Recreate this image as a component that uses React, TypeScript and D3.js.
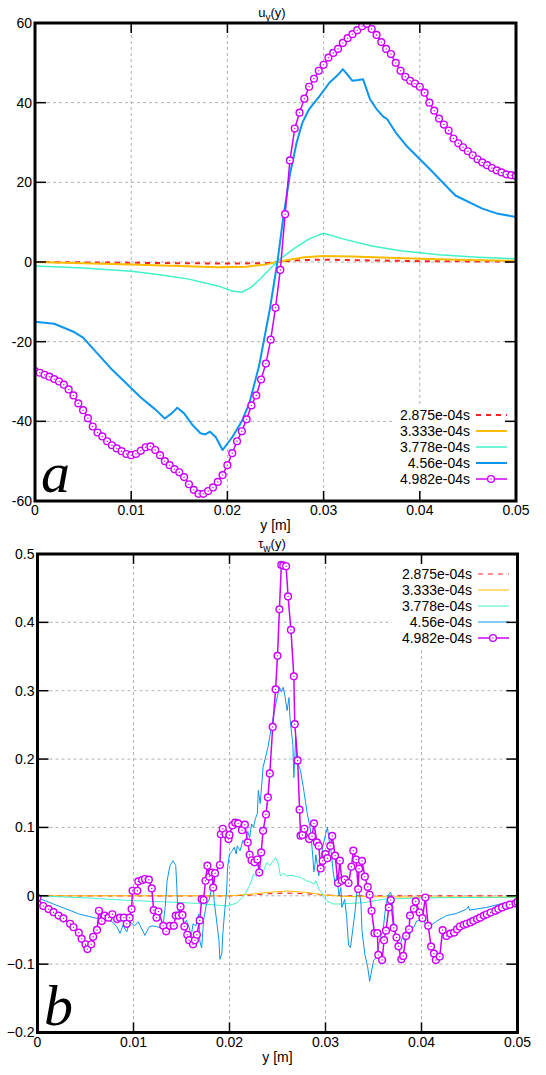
import { useEffect, useRef } from 'react';
import * as d3 from 'd3';

const W = 546;
const H = 1075;

const xTicks = [0, 0.01, 0.02, 0.03, 0.04, 0.05];
const uTicks = [-60, -40, -20, 0, 20, 40, 60];
const tauTicks = [-0.2, -0.1, 0, 0.1, 0.2, 0.3, 0.4, 0.5];
const legendLabels = ['2.875e-04s', '3.333e-04s', '3.778e-04s', '4.56e-04s', '4.982e-04s'];
const colors = ['#ff2020', '#ffbb00', '#40f2c8', '#0a96ee', '#cc00ff'];

// u_y(y): [y, u]
const uRed = [[0, 0], [0.01, -0.2], [0.02, -0.4], [0.024, -0.3], [0.026, 0.2], [0.028, 0.5], [0.03, 0.6], [0.035, 0.4], [0.04, 0.2], [0.05, 0.1]];
const uOrange = [[0, 0], [0.005, -0.3], [0.01, -0.6], [0.015, -1.0], [0.019, -1.3], [0.022, -1.2], [0.024, -0.6], [0.026, 0.4], [0.028, 1.2], [0.03, 1.5], [0.033, 1.4], [0.036, 1.1], [0.04, 0.8], [0.045, 0.5], [0.05, 0.3]];
const uCyan = [[0, -1], [0.005, -1.5], [0.01, -2.3], [0.013, -3.2], [0.016, -4.3], [0.019, -6], [0.0205, -7.3], [0.0215, -7.6], [0.0225, -6.3], [0.0235, -4], [0.0245, -1.5], [0.0255, 0.8], [0.027, 3.5], [0.0285, 5.8], [0.03, 7.2], [0.032, 5.8], [0.035, 4], [0.038, 2.8], [0.042, 1.8], [0.046, 1.2], [0.05, 0.8]];
const uBlue = [[0, -15], [0.002, -15.5], [0.004, -17.5], [0.005, -19], [0.0065, -23], [0.008, -27], [0.0095, -30.5], [0.011, -34], [0.0125, -37], [0.0135, -39.3], [0.0142, -38], [0.0148, -36.6], [0.0155, -38], [0.0164, -41], [0.0172, -43], [0.0177, -43.3], [0.0182, -42.6], [0.0188, -44], [0.0195, -47.2], [0.0205, -44], [0.0215, -40], [0.0223, -35.3], [0.0233, -26], [0.0244, -12], [0.0252, 0], [0.0258, 11], [0.0265, 22], [0.0272, 30], [0.0278, 35], [0.0285, 38.4], [0.0296, 41.7], [0.0306, 45], [0.0315, 47], [0.032, 48.4], [0.0325, 47], [0.033, 45.5], [0.0336, 45.7], [0.0341, 45.9], [0.0348, 41], [0.0355, 38.4], [0.0362, 36.5], [0.0366, 35.9], [0.0375, 32.5], [0.0386, 29.2], [0.041, 23.4], [0.0437, 16.7], [0.0465, 13.4], [0.048, 12.2], [0.05, 11.3]];
const uMagenta = [
  [0, -27.4], [0.0005, -27.8], [0.001, -28.3], [0.0015, -28.8], [0.002, -29.4], [0.0025, -30.0], [0.003, -30.8], [0.0035, -32.0], [0.004, -33.5], [0.0045, -35.5],
  [0.005, -37.2], [0.0055, -39.2], [0.006, -41.3], [0.0065, -42.8], [0.007, -43.8], [0.0075, -45.0], [0.008, -46.0], [0.0085, -46.8], [0.009, -47.5], [0.0095, -48.2],
  [0.01, -48.5], [0.0105, -48.2], [0.011, -47.4], [0.0115, -46.5], [0.012, -46.3], [0.0125, -47.2], [0.013, -48.5], [0.0135, -50.0], [0.014, -51.0], [0.0145, -52.0],
  [0.015, -52.8], [0.0155, -54.0], [0.016, -55.8], [0.0165, -57.2], [0.017, -58.2], [0.0175, -58.2], [0.018, -57.5], [0.0185, -56.6], [0.019, -55.2], [0.0195, -53.5],
  [0.02, -51.0], [0.0205, -48.0], [0.021, -45.0], [0.0215, -42.5], [0.022, -39.5], [0.0225, -36.0], [0.023, -33.5], [0.0235, -29.5], [0.024, -25.5], [0.0245, -19.5],
  [0.025, -11.5], [0.0255, -2.0], [0.026, 12.0], [0.0265, 25.5], [0.027, 33.5], [0.0275, 37.5], [0.028, 41.0], [0.0285, 44.0], [0.029, 46.0], [0.0295, 48.0],
  [0.03, 49.5], [0.0305, 51.3], [0.031, 52.5], [0.0315, 53.5], [0.032, 55.0], [0.0325, 56.2], [0.033, 57.2], [0.0335, 58.2], [0.034, 59.2], [0.0345, 59.8],
  [0.035, 58.5], [0.0355, 57.0], [0.036, 55.2], [0.0365, 53.5], [0.037, 52.2], [0.0375, 50.0], [0.038, 48.0], [0.0385, 46.5], [0.039, 45.5], [0.0395, 44.8],
  [0.04, 44.0], [0.0405, 42.5], [0.041, 40.0], [0.0415, 38.0], [0.042, 36.0], [0.0425, 34.5], [0.043, 33.0], [0.0435, 31.0], [0.044, 29.8], [0.0445, 28.8],
  [0.045, 27.8], [0.0455, 26.8], [0.046, 25.8], [0.0465, 25.0], [0.047, 24.3], [0.0475, 23.6], [0.048, 23.0], [0.0485, 22.5], [0.049, 22.0], [0.0495, 21.8], [0.05, 21.6],
];

// tau_w(y): [y, tau]
const tRed = [[0, 0], [0.02, 0], [0.022, 0.001], [0.024, 0.003], [0.026, 0.004], [0.028, 0.003], [0.03, 0.001], [0.032, 0], [0.05, 0]];
const tOrange = [[0, 0], [0.01, 0], [0.02, 0], [0.022, 0.002], [0.024, 0.005], [0.026, 0.007], [0.028, 0.005], [0.03, 0.001], [0.032, -0.001], [0.04, -0.002], [0.05, -0.002]];
const tCyan = [[0, 0], [0.005, -0.003], [0.0097, -0.007], [0.0135, -0.009], [0.0166, -0.011], [0.0197, -0.015], [0.0207, -0.011], [0.0215, 0], [0.022, 0.012], [0.0223, 0.022], [0.0225, 0.032], [0.0228, 0.028], [0.0232, 0.037], [0.0235, 0.035], [0.0239, 0.049], [0.0242, 0.044], [0.0245, 0.05], [0.0248, 0.056], [0.0251, 0.046], [0.0253, 0.029], [0.0256, 0.033], [0.026, 0.029], [0.0265, 0.03], [0.027, 0.028], [0.0274, 0.027], [0.028, 0.022], [0.0285, 0.02], [0.0288, 0.017], [0.029, 0.022], [0.0293, 0.01], [0.0296, 0.005], [0.0298, -0.002], [0.0301, -0.007], [0.0308, -0.012], [0.0315, -0.012], [0.034, -0.01], [0.036, -0.005], [0.04, -0.003], [0.05, -0.002]];
const tBlue = [
  [0, -0.003], [0.0044, -0.027], [0.0062, -0.033], [0.0072, -0.035], [0.0078, -0.038], [0.0083, -0.046], [0.0086, -0.055], [0.0089, -0.043], [0.0093, -0.053], [0.0096, -0.038],
  [0.0099, -0.041], [0.0101, -0.044], [0.0105, -0.038], [0.0108, -0.047], [0.0112, -0.058], [0.0116, -0.046], [0.0119, -0.044], [0.0124, -0.045], [0.0128, -0.047], [0.0131, -0.041],
  [0.0133, -0.017], [0.0135, 0.022], [0.0138, 0.044], [0.0141, 0.0513], [0.0144, 0.044], [0.0145, 0.017], [0.0146, -0.017], [0.0148, -0.034], [0.015, -0.027], [0.0153, -0.041],
  [0.0155, -0.036], [0.0158, -0.046], [0.016, -0.06], [0.0162, -0.041], [0.0165, -0.044], [0.0168, -0.027], [0.0169, -0.066], [0.0171, -0.076], [0.0173, -0.036], [0.0176, -0.012],
  [0.0179, -0.005], [0.0183, 0.022], [0.0184, -0.008], [0.0187, -0.0415], [0.0189, -0.065], [0.019, -0.093], [0.0192, -0.085], [0.0193, -0.057], [0.0195, -0.022], [0.0197, 0.007],
  [0.0198, 0.0415], [0.02, 0.061], [0.0203, 0.066], [0.0205, 0.071], [0.0207, 0.061], [0.0208, 0.073], [0.0211, 0.066], [0.0214, 0.081], [0.0216, 0.076], [0.0219, 0.094],
  [0.0221, 0.085], [0.0223, 0.105], [0.0225, 0.1], [0.0227, 0.113], [0.0229, 0.12], [0.023, 0.154], [0.0232, 0.135], [0.0235, 0.188], [0.024, 0.217], [0.0245, 0.257],
  [0.0249, 0.286], [0.0252, 0.305], [0.0254, 0.298], [0.0256, 0.305], [0.0258, 0.29], [0.026, 0.271], [0.0262, 0.29], [0.0263, 0.26], [0.0266, 0.221], [0.0267, 0.173],
  [0.0269, 0.231], [0.027, 0.2], [0.0274, 0.183], [0.0277, 0.158], [0.0281, 0.12], [0.0284, 0.1], [0.0286, 0.07], [0.0288, 0.035], [0.0289, 0.046], [0.029, 0.06],
  [0.0293, 0.029], [0.0295, 0.05], [0.0297, 0.07], [0.03, 0.09], [0.0302, 0.1], [0.0304, 0.08], [0.0306, 0.063], [0.0308, 0.035], [0.031, 0.017], [0.0312, 0.03],
  [0.0314, 0], [0.0316, 0.012], [0.0317, -0.017], [0.032, -0.005], [0.0322, -0.03], [0.0324, -0.072], [0.0326, -0.076], [0.0329, -0.043], [0.0331, -0.02], [0.0333, 0.012],
  [0.0335, 0.008], [0.0337, -0.012], [0.0338, -0.051], [0.0341, -0.086], [0.0344, -0.105], [0.0346, -0.125], [0.0348, -0.11], [0.035, -0.095], [0.0353, -0.09], [0.0357, -0.061],
  [0.036, -0.05], [0.0363, -0.012], [0.0366, 0.0025], [0.0368, 0.005], [0.037, -0.012], [0.0371, -0.037], [0.0374, -0.061], [0.0377, -0.076], [0.038, -0.061], [0.0383, -0.066],
  [0.0387, -0.061], [0.039, -0.046], [0.0392, -0.046], [0.0395, -0.037], [0.0399, -0.035], [0.0402, -0.037], [0.0406, -0.044], [0.041, -0.043], [0.0416, -0.037], [0.0426, -0.029],
  [0.0436, -0.026], [0.0447, -0.0195], [0.0449, -0.015], [0.045, -0.021], [0.0468, -0.017], [0.0482, -0.012], [0.05, -0.006],
];
const tMagenta = [
  [0, -0.003], [0.0006, -0.015], [0.00115, -0.0195], [0.00167, -0.024], [0.0022, -0.029], [0.0027, -0.033], [0.0034, -0.041], [0.00375, -0.046], [0.0043, -0.054], [0.0046, -0.063],
  [0.005, -0.071], [0.0052, -0.078], [0.0056, -0.071], [0.0058, -0.06], [0.0062, -0.05], [0.0064, -0.022], [0.0067, -0.037], [0.007, -0.029], [0.0074, -0.032], [0.0078, -0.027],
  [0.0083, -0.034], [0.0086, -0.032], [0.009, -0.032], [0.0093, -0.041], [0.0096, -0.032], [0.0098, -0.0195], [0.0099, 0.0073], [0.0104, 0.0073], [0.0105, 0.021], [0.0109, 0.023],
  [0.0112, 0.0245], [0.0116, 0.0235], [0.0119, 0.0107], [0.0121, -0.021], [0.0124, -0.032], [0.0126, -0.023], [0.0131, -0.044], [0.0134, -0.052], [0.0138, -0.044], [0.0142, -0.044],
  [0.0144, -0.029], [0.0147, -0.029], [0.0149, -0.016], [0.0151, -0.028], [0.0153, -0.045], [0.0156, -0.057], [0.0158, -0.065], [0.0162, -0.071], [0.0164, -0.065], [0.0166, -0.057],
  [0.0169, -0.036], [0.0171, -0.005], [0.0173, -0.006], [0.0175, 0.022], [0.0177, 0.044], [0.0179, 0.028], [0.0182, 0.034], [0.0183, 0.012], [0.0185, 0.033], [0.019, 0.045],
  [0.0191, 0.09], [0.0193, 0.098], [0.0196, 0.09], [0.0199, 0.083], [0.02, 0.089], [0.0203, 0.103], [0.0206, 0.107], [0.0209, 0.106], [0.0213, 0.096], [0.0216, 0.104],
  [0.0219, 0.078], [0.0221, 0.06], [0.0223, 0.052], [0.0226, 0.049], [0.0229, 0.053], [0.0231, 0.034], [0.0233, 0.0635], [0.0235, 0.095], [0.0238, 0.119], [0.024, 0.144],
  [0.0242, 0.179], [0.0245, 0.247], [0.0248, 0.302], [0.025, 0.351], [0.0252, 0.419], [0.0254, 0.484], [0.0256, 0.483], [0.0259, 0.482], [0.0261, 0.438], [0.0264, 0.389],
  [0.0267, 0.321], [0.0268, 0.251], [0.0271, 0.198], [0.0273, 0.126], [0.0274, 0.088], [0.0276, 0.089], [0.0278, 0.098], [0.0283, 0.083], [0.0286, 0.087], [0.0288, 0.106],
  [0.0291, 0.078], [0.0293, 0.073], [0.0295, 0.04], [0.0297, 0.051], [0.03, 0.061], [0.0302, 0.055], [0.0305, 0.073], [0.0307, 0.0875], [0.031, 0.0587], [0.0313, 0.0186],
  [0.0315, 0.0513], [0.0317, 0.022], [0.032, 0.024], [0.0324, 0.0186], [0.0327, 0.0425], [0.0329, 0.066], [0.0332, 0.053], [0.0334, 0.0098], [0.0335, 0.0396], [0.0338, 0.051],
  [0.0341, 0.028], [0.0344, 0.013], [0.0346, 0.0015], [0.0348, -0.022], [0.0351, -0.0547], [0.0354, -0.0547], [0.0355, -0.0865], [0.0359, -0.094], [0.0361, -0.065], [0.0363, -0.051],
  [0.0366, -0.017], [0.0368, -0.0063], [0.0371, -0.047], [0.0374, -0.061], [0.0376, -0.074], [0.0379, -0.093], [0.0381, -0.088], [0.0384, -0.0587], [0.0387, -0.049], [0.0388, -0.029],
  [0.0392, -0.019], [0.0394, -0.0083], [0.0398, -0.0245], [0.0401, -0.0327], [0.0404, -0.0025], [0.0407, -0.044], [0.041, -0.0743], [0.0413, -0.0846], [0.0415, -0.094], [0.0419, -0.089],
  [0.0422, -0.0503], [0.0426, -0.0587], [0.043, -0.0553], [0.0434, -0.0538], [0.0437, -0.049], [0.044, -0.045], [0.0444, -0.0425], [0.0447, -0.041], [0.0451, -0.039], [0.0454, -0.0367],
  [0.0458, -0.034], [0.0461, -0.032], [0.0465, -0.029], [0.0468, -0.027], [0.0472, -0.0245], [0.0477, -0.022], [0.048, -0.0195], [0.0484, -0.017], [0.0488, -0.0147], [0.0492, -0.013],
  [0.0498, -0.011], [0.05, -0.009],
];

const FONT = '"Liberation Sans", Arial, Helvetica, sans-serif';

function drawPanel(svg, opts) {
  const { box, yDomain, yTicks, yFmt, series, title, sub, letter, letterPos, legendTop, legendTextX, thick } = opts;
  const x = d3.scaleLinear().domain([0, 0.05]).range([box.left, box.right]);
  const y = d3.scaleLinear().domain(yDomain).range([box.bottom, box.top]);
  const g = svg.append('g');

  // grid
  xTicks.slice(1, -1).forEach(t => {
    g.append('line').attr('x1', x(t)).attr('x2', x(t)).attr('y1', box.top).attr('y2', box.bottom)
      .attr('stroke', '#b0b0b0').attr('stroke-width', 1).attr('stroke-dasharray', '3,3');
  });
  yTicks.slice(1, -1).forEach(t => {
    g.append('line').attr('x1', box.left).attr('x2', box.right).attr('y1', y(t)).attr('y2', y(t))
      .attr('stroke', '#b0b0b0').attr('stroke-width', 1).attr('stroke-dasharray', '3,3');
  });

  const line = d3.line().x(d => x(d[0])).y(d => y(d[1]));
  const clipId = 'clip' + Math.round(box.top);
  svg.append('defs').append('clipPath').attr('id', clipId).append('rect')
    .attr('x', box.left).attr('y', box.top).attr('width', box.right - box.left).attr('height', box.bottom - box.top);
  const plot = g.append('g').attr('clip-path', `url(#${clipId})`);

  series.forEach((s, i) => {
    plot.append('path').datum(s).attr('fill', 'none').attr('stroke', colors[i])
      .attr('stroke-width', i === 4 ? 1.5 : thick[i])
      .attr('stroke-dasharray', i === 0 ? '5,5' : null)
      .attr('stroke-linejoin', 'round')
      .attr('d', line);
  });
  const marks = plot.append('g');
  series[4].forEach(d => {
    marks.append('circle').attr('cx', x(d[0])).attr('cy', y(d[1])).attr('r', 3.4)
      .attr('fill', 'white').attr('stroke', colors[4]).attr('stroke-width', 1.4);
    marks.append('circle').attr('cx', x(d[0])).attr('cy', y(d[1])).attr('r', 0.7).attr('fill', colors[4]);
  });

  // legend
  const rowH = 16;
  g.append('rect').attr('x', 392).attr('y', legendTop - 10).attr('width', 118).attr('height', rowH * 5 + 4).attr('fill', 'white');
  legendLabels.forEach((lab, i) => {
    const ly = legendTop + i * rowH;
    g.append('text').attr('x', legendTextX).attr('y', ly).attr('dy', '0.35em').attr('text-anchor', 'end')
      .attr('font-family', FONT).attr('font-size', 14).attr('fill', '#000').text(lab);
    g.append('line').attr('x1', legendTextX + 6).attr('x2', legendTextX + 37).attr('y1', ly).attr('y2', ly)
      .attr('stroke', colors[i]).attr('stroke-width', i === 4 ? 1.5 : thick[i])
      .attr('stroke-dasharray', i === 0 ? '5,5' : null);
    if (i === 4) {
      g.append('circle').attr('cx', legendTextX + 21).attr('cy', ly).attr('r', 3.4)
        .attr('fill', 'white').attr('stroke', colors[4]).attr('stroke-width', 1.4);
      g.append('circle').attr('cx', legendTextX + 21).attr('cy', ly).attr('r', 0.7).attr('fill', colors[4]);
    }
  });

  // ticks
  xTicks.slice(1, -1).forEach(t => {
    g.append('line').attr('x1', x(t)).attr('x2', x(t)).attr('y1', box.bottom).attr('y2', box.bottom - 10).attr('stroke', '#000').attr('stroke-width', 1.5);
    g.append('line').attr('x1', x(t)).attr('x2', x(t)).attr('y1', box.top).attr('y2', box.top + 10).attr('stroke', '#000').attr('stroke-width', 1.5);
  });
  yTicks.slice(1, -1).forEach(t => {
    g.append('line').attr('x1', box.left).attr('x2', box.left + 11).attr('y1', y(t)).attr('y2', y(t)).attr('stroke', '#000').attr('stroke-width', 1.5);
    g.append('line').attr('x1', box.right).attr('x2', box.right - 11).attr('y1', y(t)).attr('y2', y(t)).attr('stroke', '#000').attr('stroke-width', 1.5);
  });

  // frame
  g.append('rect').attr('x', box.left).attr('y', box.top).attr('width', box.right - box.left).attr('height', box.bottom - box.top)
    .attr('fill', 'none').attr('stroke', '#000').attr('stroke-width', 3);

  // tick labels
  xTicks.forEach(t => {
    g.append('text').attr('x', x(t)).attr('y', box.bottom + 14).attr('text-anchor', 'middle')
      .attr('font-family', FONT).attr('font-size', 14).text(d3.format('~g')(t));
  });
  yTicks.forEach(t => {
    g.append('text').attr('x', box.left - 3).attr('y', y(t)).attr('dy', '0.35em').attr('text-anchor', 'end')
      .attr('font-family', FONT).attr('font-size', 14).text(yFmt(t));
  });

  g.append('text').attr('x', (box.left + box.right) / 2).attr('y', box.bottom + 29).attr('text-anchor', 'middle')
    .attr('font-family', FONT).attr('font-size', 14).text('y [m]');

  const tt = g.append('text').attr('x', 272).attr('y', box.top - 6).attr('text-anchor', 'middle')
    .attr('font-family', FONT).attr('font-size', 13);
  tt.append('tspan').text(title);
  tt.append('tspan').attr('font-size', 10).attr('dy', 4).text(sub);
  tt.append('tspan').attr('dy', -4).text('(y)');

  g.append('text').attr('x', letterPos[0]).attr('y', letterPos[1]).attr('font-family', '"Liberation Serif", "Times New Roman", serif')
    .attr('font-style', 'italic').attr('font-size', 58).text(letter);
}

export default function App() {
  const svgRef = useRef(null);

  useEffect(() => {
    const svg = d3.select(svgRef.current);
    svg.selectAll('*').remove();

    drawPanel(svg, {
      box: { left: 35, right: 516, top: 23, bottom: 501 },
      yDomain: [-60, 60],
      yTicks: uTicks,
      yFmt: d => String(d),
      series: [uRed, uOrange, uCyan, uBlue, uMagenta],
      title: 'u',
      sub: 'y',
      letter: 'a',
      letterPos: [41, 492],
      legendTop: 415,
      legendTextX: 470,
      thick: [2, 2, 1.5, 2, 1.5],
    });

    drawPanel(svg, {
      box: { left: 37.5, right: 517.5, top: 554, bottom: 1032.5 },
      yDomain: [-0.2, 0.5],
      yTicks: tauTicks,
      yFmt: d => d3.format('~g')(d),
      series: [tRed, tOrange, tCyan, tBlue, tMagenta],
      title: '\u03c4',
      sub: 'w',
      letter: 'b',
      letterPos: [44, 1025],
      legendTop: 574,
      legendTextX: 472,
      thick: [1.2, 1, 1, 1, 1.5],
    });
  }, []);

  return (
    <svg ref={svgRef} width={W} height={H}
      style={{ position: 'absolute', left: 0, top: 0, background: 'white' }} />
  );
}
